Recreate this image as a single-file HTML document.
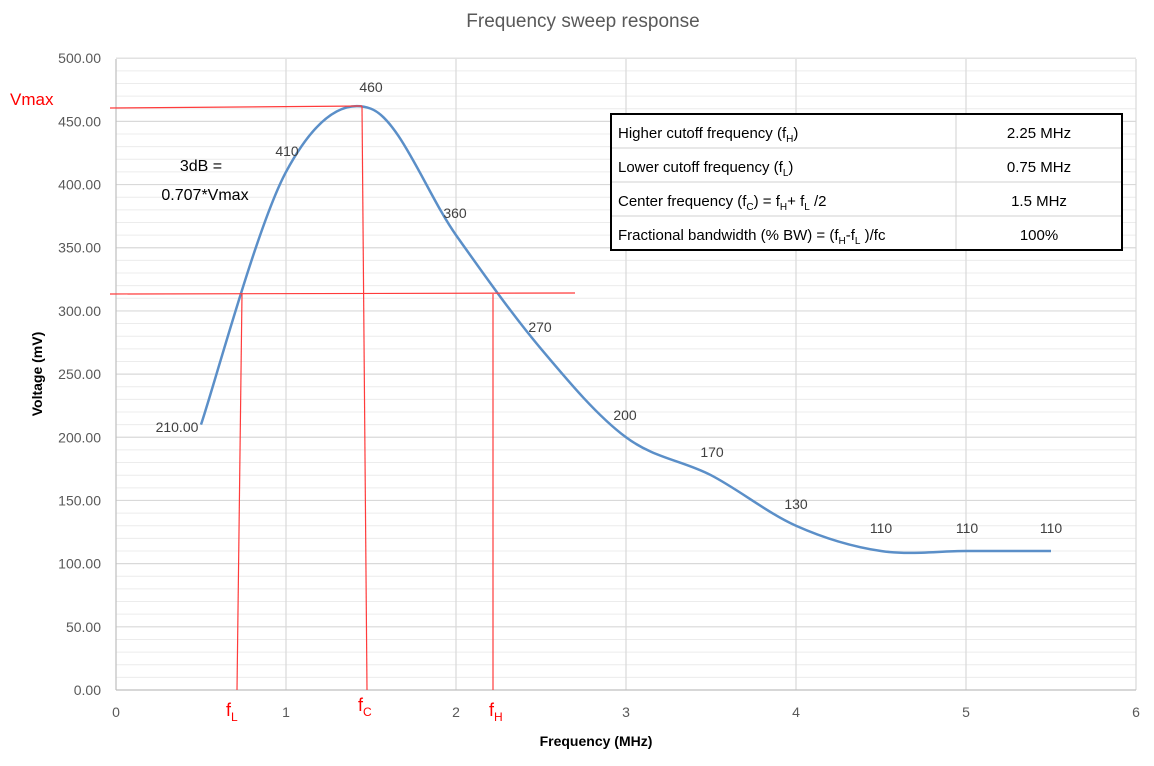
<!DOCTYPE html>
<html><head><meta charset="utf-8"><style>
body{margin:0;background:#fff;width:1154px;height:761px;overflow:hidden;font-family:"Liberation Sans",sans-serif}
svg text{font-family:"Liberation Sans",sans-serif}
</style></head><body>
<svg id="s" width="1154" height="761" xmlns="http://www.w3.org/2000/svg">
<text x="583" y="27" text-anchor="middle" font-size="19" fill="#595959">Frequency sweep response</text>
<g id="grid"></g>
<path id="curve" fill="none" stroke="#5b8fc8" stroke-width="2.5"/>
<g stroke="#ff3b3b" stroke-width="1.2" fill="none">
<line x1="110" y1="108" x2="362" y2="106"/>
<line x1="362" y1="106" x2="367" y2="690"/>
<line x1="110" y1="294" x2="575" y2="293"/>
<line x1="242" y1="294" x2="237" y2="690"/>
<line x1="493" y1="294" x2="493" y2="690"/>
</g>
<text x="10" y="105" font-size="17" fill="#ff0000">Vmax</text>
<g font-size="18" fill="#ff0000">
<text x="226" y="716">f<tspan font-size="12" dy="5">L</tspan></text>
<text x="358" y="711">f<tspan font-size="12" dy="5">C</tspan></text>
<text x="489" y="716">f<tspan font-size="12" dy="5">H</tspan></text>
</g>
<text x="201" y="171" text-anchor="middle" font-size="16" fill="#000">3dB =</text>
<text x="205" y="200" text-anchor="middle" font-size="16" fill="#000">0.707*Vmax</text>
<g font-size="14" fill="#404040" text-anchor="middle">
<text x="177" y="432">210.00</text><text x="287" y="156">410</text><text x="371" y="92">460</text>
<text x="455" y="218">360</text><text x="540" y="332">270</text><text x="625" y="420">200</text>
<text x="712" y="457">170</text><text x="796" y="509">130</text><text x="881" y="533">110</text>
<text x="967" y="533">110</text><text x="1051" y="533">110</text>
</g>
<text x="596" y="746" text-anchor="middle" font-size="14" font-weight="bold" fill="#000">Frequency (MHz)</text>
<text transform="translate(42,374) rotate(-90)" text-anchor="middle" font-size="14" font-weight="bold" fill="#000">Voltage (mV)</text>
<g>
<rect x="611" y="114" width="511" height="136" fill="#fff" stroke="#000" stroke-width="2"/>
<g stroke="#d0d0d0" stroke-width="1">
<line x1="956" y1="115" x2="956" y2="249"/>
<line x1="612" y1="148" x2="1121" y2="148"/>
<line x1="612" y1="182" x2="1121" y2="182"/>
<line x1="612" y1="216" x2="1121" y2="216"/>
</g>
<g font-size="15" fill="#000">
<text x="618" y="138">Higher cutoff frequency (f<tspan font-size="10" dy="4">H</tspan><tspan dy="-4">)</tspan></text>
<text x="618" y="172">Lower cutoff frequency (f<tspan font-size="10" dy="4">L</tspan><tspan dy="-4">)</tspan></text>
<text x="618" y="206">Center frequency (f<tspan font-size="10" dy="4">C</tspan><tspan dy="-4">) = f</tspan><tspan font-size="10" dy="4">H</tspan><tspan dy="-4">+ f</tspan><tspan font-size="10" dy="4">L</tspan><tspan dy="-4"> /2</tspan></text>
<text x="618" y="240">Fractional bandwidth (% BW) = (f<tspan font-size="10" dy="4">H</tspan><tspan dy="-4">-f</tspan><tspan font-size="10" dy="4">L</tspan><tspan dy="-4"> )/fc</tspan></text>
<g text-anchor="middle"><text x="1039" y="138">2.25 MHz</text><text x="1039" y="172">0.75 MHz</text><text x="1039" y="206">1.5 MHz</text><text x="1039" y="240">100%</text></g>
</g>
</g>
</svg>
<script>
var X=function(f){return 116+f*170},Y=function(v){return 690-v*1.2636};
var g=document.getElementById('grid'),h='';
for(var v=10;v<=500;v+=10){if(v%50)h+='<line x1="116" x2="1136" y1="'+Y(v)+'" y2="'+Y(v)+'" stroke="#ececec" stroke-width="1"/>';}
for(var v=50;v<=500;v+=50)h+='<line x1="116" x2="1136" y1="'+Y(v)+'" y2="'+Y(v)+'" stroke="#d9d9d9" stroke-width="1.2"/>';
for(var f=1;f<=6;f++)h+='<line y1="59" y2="690" x1="'+X(f)+'" x2="'+X(f)+'" stroke="#d9d9d9" stroke-width="1.2"/>';
h+='<line x1="116" y1="59" x2="116" y2="690" stroke="#bfbfbf" stroke-width="1.2"/><line x1="116" y1="690" x2="1136" y2="690" stroke="#bfbfbf" stroke-width="1.2"/>';
for(var v=0;v<=500;v+=50)h+='<text x="101" y="'+(Y(v)+5)+'" text-anchor="end" font-size="14" fill="#595959">'+v.toFixed(2)+'</text>';
for(var f=0;f<=6;f++)h+='<text x="'+X(f)+'" y="717" text-anchor="middle" font-size="14" fill="#595959">'+f+'</text>';
g.innerHTML=h;
var d=[[.5,210],[1,410],[1.5,460],[2,360],[2.5,270],[3,200],[3.5,170],[4,130],[4.5,110],[5,110],[5.5,110]].map(function(p){return[X(p[0]),Y(p[1])]});
var s='M'+d[0];
for(var i=0;i<d.length-1;i++){var p0=d[i-1]||d[i],p1=d[i],p2=d[i+1],p3=d[i+2]||p2,t=6;
s+=' C'+(p1[0]+(p2[0]-p0[0])/t)+','+(p1[1]+(p2[1]-p0[1])/t)+' '+(p2[0]-(p3[0]-p1[0])/t)+','+(p2[1]-(p3[1]-p1[1])/t)+' '+p2;}
document.getElementById('curve').setAttribute('d',s);
</script>
</body></html>
